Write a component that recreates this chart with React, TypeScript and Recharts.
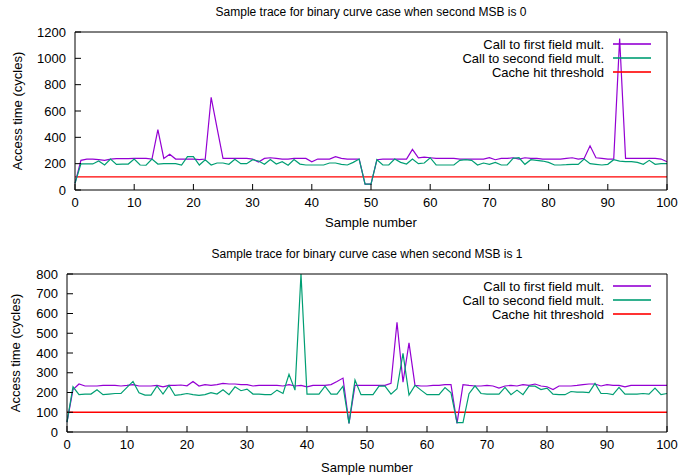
import React from 'react';
import { LineChart, Line, XAxis, YAxis, ReferenceLine, Legend } from 'recharts';

const TOP_TITLE = 'Sample trace for binary curve case when second MSB is 0';
const BOTTOM_TITLE = 'Sample trace for binary curve case when second MSB is 1';
const X_LABEL = 'Sample number';
const Y_LABEL = 'Access time (cycles)';
const SERIES_LABELS = ['Call to first field mult.', 'Call to second field mult.', 'Cache hit threshold'];
const SERIES_COLORS = ['#9400d3', '#009e73', '#ff0000'];
const THRESHOLD = 100;

const X_TICKS = [0, 10, 20, 30, 40, 50, 60, 70, 80, 90, 100];
const TOP_Y_TICKS = [0, 200, 400, 600, 800, 1000, 1200];
const BOTTOM_Y_TICKS = [0, 100, 200, 300, 400, 500, 600, 700, 800];

const TOP_FIRST = [
  50, 225, 235, 235, 230, 225, 235, 238, 238, 238,
  240, 240, 240, 235, 458, 240, 272, 235, 235, 235,
  235, 230, 235, 704, 470, 240, 240, 240, 240, 240,
  235, 213, 240, 245, 240, 235, 235, 240, 240, 240,
  214, 235, 235, 235, 253, 240, 235, 235, 235, 45,
  45, 230, 235, 235, 235, 235, 235, 309, 245, 250,
  245, 240, 240, 240, 240, 235, 235, 235, 235, 235,
  245, 230, 240, 240, 245, 235, 245, 240, 240, 235,
  235, 235, 235, 240, 245, 235, 240, 336, 245, 240,
  235, 235, 1150, 240, 240, 240, 240, 240, 240, 235,
  215,
];
const TOP_SECOND = [
  50, 198, 198, 198, 220, 190, 235, 195, 197, 197,
  235, 190, 188, 235, 197, 200, 200, 200, 190, 253,
  253, 190, 230, 190, 205, 205, 195, 233, 200, 200,
  230, 220, 195, 232, 197, 215, 188, 232, 197, 190,
  190, 190, 190, 205, 205, 195, 190, 210, 235, 45,
  45, 230, 190, 190, 235, 210, 197, 235, 200, 205,
  245, 190, 190, 190, 190, 225, 230, 225, 190, 205,
  195, 210, 190, 190, 240, 245, 195, 230, 225, 220,
  210, 190, 190, 192, 195, 195, 235, 200, 195, 190,
  195, 230, 220, 215, 215, 210, 195, 225, 195, 200,
  200,
];
const BOTTOM_FIRST = [
  50, 215, 243, 233, 233, 233, 236, 236, 236, 233,
  236, 240, 233, 233, 233, 236, 229, 236, 236, 238,
  234, 256, 233, 240, 236, 240, 246, 243, 243, 240,
  240, 233, 236, 236, 236, 236, 233, 240, 233, 236,
  229, 236, 236, 236, 240, 256, 273, 44, 236, 236,
  236, 236, 236, 236, 246, 556, 252, 451, 236, 233,
  233, 236, 236, 240, 240, 44, 240, 236, 233, 233,
  236, 233, 222, 233, 236, 233, 240, 236, 243, 233,
  229, 215, 233, 233, 233, 236, 240, 243, 243, 233,
  240, 236, 236, 229, 236, 236, 236, 236, 236, 236,
  236,
];
const BOTTOM_SECOND = [
  50, 229, 189, 192, 192, 214, 189, 192, 195, 195,
  226, 256, 199, 187, 187, 233, 192, 236, 185, 189,
  195, 189, 185, 189, 199, 192, 214, 189, 229, 209,
  217, 192, 192, 189, 189, 212, 195, 292, 212, 800,
  192, 192, 192, 232, 192, 192, 232, 44, 263, 189,
  189, 189, 232, 232, 192, 219, 398, 187, 236, 212,
  189, 189, 189, 225, 198, 47, 47, 194, 234, 195,
  192, 192, 192, 226, 189, 212, 189, 232, 232, 215,
  222, 192, 189, 189, 205, 202, 202, 199, 246, 195,
  195, 189, 226, 192, 192, 192, 195, 192, 222, 189,
  195,
];

const SAMPLE_NUMBERS = TOP_FIRST.map((_, i) => i);

const topData = SAMPLE_NUMBERS.map((x, i) => ({ x, first: TOP_FIRST[i], second: TOP_SECOND[i] }));
const bottomData = SAMPLE_NUMBERS.map((x, i) => ({ x, first: BOTTOM_FIRST[i], second: BOTTOM_SECOND[i] }));

const FONT = '"Liberation Sans", Arial, Helvetica, sans-serif';
const TICK_STYLE = { fontSize: 13, fill: '#000', fontFamily: FONT };

function GnuplotLegend({ top }: { top: number }) {
  return (
    <div
      style={{
        position: 'absolute',
        top,
        right: 30,
        fontSize: 13,
        fontFamily: FONT,
        color: '#000',
        whiteSpace: 'nowrap',
      }}
    >
      {SERIES_LABELS.map((label, i) => (
        <div
          key={label}
          style={{ display: 'flex', alignItems: 'center', justifyContent: 'flex-end', height: 14 }}
        >
          <span>{label}</span>
          <div
            style={{
              width: 38,
              height: 2,
              background: SERIES_COLORS[i],
              opacity: 0.8,
              marginLeft: 9,
              flex: '0 0 auto',
            }}
          />
        </div>
      ))}
    </div>
  );
}

function makeYLabel(x: number) {
  return {
    content: (props: any) => {
      const vb = props.viewBox || {};
      const cy = (vb.y || 0) + (vb.height || 0) / 2;
      return (
        <text
          x={x}
          y={cy}
          transform={`rotate(-90 ${x} ${cy})`}
          textAnchor="middle"
          dominantBaseline="central"
          fontSize={13}
          fill="#000"
          fontFamily={FONT}
        >
          {Y_LABEL}
        </text>
      );
    },
  };
}

type PanelProps = {
  data: { x: number; first: number; second: number }[];
  title: string;
  yTicks: number[];
  yMax: number;
  yAxisWidth: number;
  marginTop: number;
  xAxisHeight: number;
  xLabelOffset: number;
  legendTop: number;
  yLabelX: number;
};

function Panel(p: PanelProps) {
  return (
    <LineChart
      width={681}
      height={235}
      data={p.data}
      margin={{ top: p.marginTop, right: 14, left: 0, bottom: 0 }}
    >
      <XAxis
        dataKey="x"
        type="number"
        domain={[0, 100]}
        ticks={X_TICKS}
        interval={0}
        tickSize={-6}
        tickMargin={14}
        tick={TICK_STYLE}
        stroke="#000"
        height={p.xAxisHeight}
        label={{ value: X_LABEL, position: 'insideBottom', offset: p.xLabelOffset, fontSize: 13, fill: '#000', fontFamily: FONT }}
      />
      <XAxis
        xAxisId="top"
        orientation="top"
        mirror
        dataKey="x"
        type="number"
        domain={[0, 100]}
        ticks={X_TICKS}
        interval={0}
        tick={false}
        tickSize={6}
        stroke="#000"
        label={{ value: p.title, position: 'top', offset: 16, fontSize: 12, fill: '#000', fontFamily: FONT }}
      />
      <YAxis
        type="number"
        domain={[0, p.yMax]}
        ticks={p.yTicks}
        interval={0}
        allowDataOverflow
        tickSize={-6}
        tickMargin={15}
        tick={TICK_STYLE}
        stroke="#000"
        width={p.yAxisWidth}
        label={makeYLabel(p.yLabelX)}
      />
      <YAxis
        yAxisId="right"
        orientation="right"
        mirror
        type="number"
        domain={[0, p.yMax]}
        ticks={p.yTicks}
        interval={0}
        allowDataOverflow
        tick={false}
        tickSize={6}
        stroke="#000"
      />
      <ReferenceLine y={THRESHOLD} stroke={SERIES_COLORS[2]} strokeWidth={1.3} />
      <Line
        dataKey="first"
        type="linear"
        stroke={SERIES_COLORS[0]}
        strokeWidth={1.2}
        dot={false}
        isAnimationActive={false}
      />
      <Line
        dataKey="second"
        type="linear"
        stroke={SERIES_COLORS[1]}
        strokeWidth={1.2}
        dot={false}
        isAnimationActive={false}
      />
      <Legend
        verticalAlign="top"
        align="center"
        layout="horizontal"
        wrapperStyle={{ left: 0, top: 0, width: 681, height: 0 }}
        content={() => <GnuplotLegend top={p.legendTop} />}
      />
    </LineChart>
  );
}

export default function App() {
  return (
    <div
      style={{
        position: 'absolute',
        left: 0,
        top: 0,
        width: 681,
        height: 475,
        background: '#fff',
        fontFamily: FONT,
        overflow: 'hidden',
      }}
    >
      <div style={{ position: 'absolute', left: 0, top: 0 }}>
        <Panel
          data={topData}
          title={TOP_TITLE}
          yTicks={TOP_Y_TICKS}
          yMax={1200}
          yAxisWidth={75}
          marginTop={32}
          xAxisHeight={45}
          xLabelOffset={8}
          legendTop={37}
          yLabelX={17}
        />
      </div>
      <div style={{ position: 'absolute', left: 0, top: 240 }}>
        <Panel
          data={bottomData}
          title={BOTTOM_TITLE}
          yTicks={BOTTOM_Y_TICKS}
          yMax={800}
          yAxisWidth={67}
          marginTop={34}
          xAxisHeight={43}
          xLabelOffset={3}
          legendTop={39}
          yLabelX={15}
        />
      </div>
    </div>
  );
}
